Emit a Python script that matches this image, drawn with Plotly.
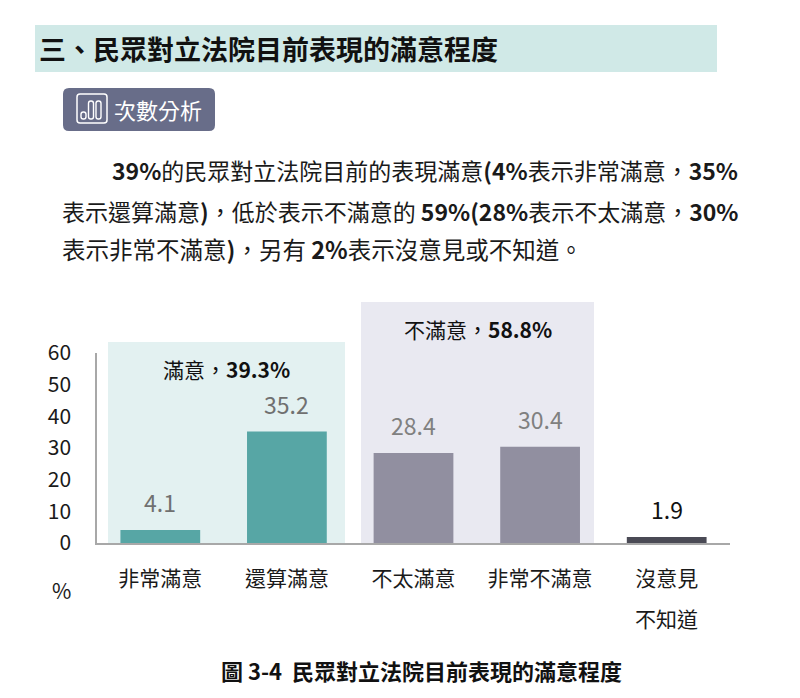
import plotly.graph_objects as go

# ---------------- data ----------------
categories = ["非常滿意", "還算滿意", "不太滿意", "非常不滿意", "沒意見"]
values = [4.1, 35.2, 28.4, 30.4, 1.9]
value_labels = ["4.1", "35.2", "28.4", "30.4", "1.9"]
bar_colors = ["#57a6a5", "#57a6a5", "#918fa0", "#918fa0", "#4a4a55"]
label_colors = ["#707070", "#707070", "#808080", "#808080", "#111111"]
y_ticks = [0, 10, 20, 30, 40, 50, 60]
group_satisfied = "滿意，<b>39.3%</b>"
group_dissatisfied = "不滿意，<b>58.8%</b>"

FONT = "Noto Sans CJK TC"
OFF = 8  # page body margin in the browser
W, H = 792, 690
L, T = 97 - OFF, 353 - OFF
R = W - (730 - OFF)
B = H - (543 - OFF)
PW, PH = W - L - R, H - T - B


def px(x):
    return (x - OFF - L) / PW


def py(y):
    return (H - B - (y - OFF)) / PH


fig = go.Figure()
fig.add_trace(go.Bar(
    x=categories, y=values,
    marker=dict(color=bar_colors, line=dict(width=0)),
    width=0.63, hoverinfo="skip",
))

shapes = []
# title band
shapes.append(dict(type="rect", xref="paper", yref="paper", x0=px(35), x1=px(717),
                   y0=py(72), y1=py(25), fillcolor="#d0e9e7", line=dict(width=0), layer="below"))
# group background panels
shapes.append(dict(type="rect", xref="paper", yref="paper", x0=px(108), x1=px(345),
                   y0=0, y1=py(342), fillcolor="#e3f1f1", line=dict(width=0), layer="below"))
shapes.append(dict(type="rect", xref="paper", yref="paper", x0=px(361), x1=px(594),
                   y0=0, y1=py(302), fillcolor="#e9e9f1", line=dict(width=0), layer="below"))


# rounded rectangle path in screenshot pixels
def rrect(x0, y0, x1, y1, r):
    X0, X1 = px(x0), px(x1)
    Y0, Y1 = py(y0), py(y1)
    rx, ry = r / PW, r / PH
    return (f"M{X0+rx},{Y0} L{X1-rx},{Y0} Q{X1},{Y0} {X1},{Y0-ry} "
            f"L{X1},{Y1+ry} Q{X1},{Y1} {X1-rx},{Y1} L{X0+rx},{Y1} "
            f"Q{X0},{Y1} {X0},{Y1+ry} L{X0},{Y0-ry} Q{X0},{Y0} {X0+rx},{Y0} Z")


shapes.append(dict(type="path", xref="paper", yref="paper", path=rrect(63, 88, 215, 131, 6),
                   fillcolor="#686d89", line=dict(width=0)))
# icon inside badge
shapes.append(dict(type="path", xref="paper", yref="paper", path=rrect(77, 94, 107, 123, 3),
                   fillcolor="rgba(0,0,0,0)", line=dict(color="white", width=1.5)))
for (a, b, c, d) in [(81, 112, 86, 119), (88.5, 101, 93.5, 119), (96, 101, 101, 119)]:
    shapes.append(dict(type="path", xref="paper", yref="paper", path=rrect(a, b, c, d, 2.3),
                       fillcolor="rgba(0,0,0,0)", line=dict(color="white", width=1.4)))

annotations = []


def txt(x, y, text, size, color="#1a1a1a", anchor="left", **kw):
    annotations.append(dict(xref="paper", yref="paper", x=px(x), y=py(y), text=text,
                            showarrow=False, xanchor=anchor, yanchor="middle",
                            font=dict(family=FONT, size=size, color=color), **kw))


txt(37, 48, "<b>三、民眾對立法院目前表現的滿意程度</b>", 27, "#111111")
txt(112, 109, "次數分析", 22, "#ffffff")

P = 23
txt(110, 170, "<b>39%</b>的民眾對立法院目前的表現滿意<b>(4%</b>表示非常滿意，<b>35%</b>", P)
txt(60, 211, "表示還算滿意<b>)</b>，低於表示不滿意的 <b>59%(28%</b>表示不太滿意，<b>30%</b>", P)
txt(60, 249, "表示非常不滿意<b>)</b>，另有 <b>2%</b>表示沒意見或不知道。", 23.5)

txt(226.5, 369, group_satisfied, 21, "#111111", anchor="center")
txt(477.5, 329, group_dissatisfied, 21, "#111111", anchor="center")

# bar value labels (placed by data coordinates)
for c, v, lab, col in zip(categories, values, value_labels, label_colors):
    annotations.append(dict(x=c, y=v, xref="x", yref="y", text=lab, showarrow=False,
                            yanchor="bottom", yshift=9,
                            font=dict(family=FONT, size=23, color=col)))

# second line of the last category label
annotations.append(dict(x=categories[4], xref="x", yref="paper", y=py(618), text="不知道",
                        showarrow=False, yanchor="middle",
                        font=dict(family=FONT, size=21, color="#1a1a1a")))
txt(61, 590, "%", 21, "#1a1a1a", anchor="center")
txt(421, 670, "<b>圖 3-4  民眾對立法院目前表現的滿意程度</b>", 22, "#111111", anchor="center")

fig.update_layout(
    width=W, height=H,
    margin=dict(l=L, r=R, t=T, b=B, pad=0),
    paper_bgcolor="white", plot_bgcolor="rgba(0,0,0,0)",
    showlegend=False,
    shapes=shapes, annotations=annotations,
    bargap=0.37,
    font=dict(family=FONT),
    xaxis=dict(range=[-0.5, 4.5], showgrid=False, zeroline=False, showline=True,
               linecolor="#a8a8a8", linewidth=1.5, ticks="", fixedrange=True,
               tickfont=dict(family=FONT, size=21, color="#1a1a1a"),
               ticklabelstandoff=16),
    yaxis=dict(range=[0, 60], tickvals=y_ticks, showgrid=False, zeroline=False,
               showline=True, linecolor="#a8a8a8", linewidth=1.5, ticks="",
               tickfont=dict(family=FONT, size=21, color="#1a1a1a"),
               ticklabelstandoff=20, fixedrange=True),
)

fig.write_html("out.html")
